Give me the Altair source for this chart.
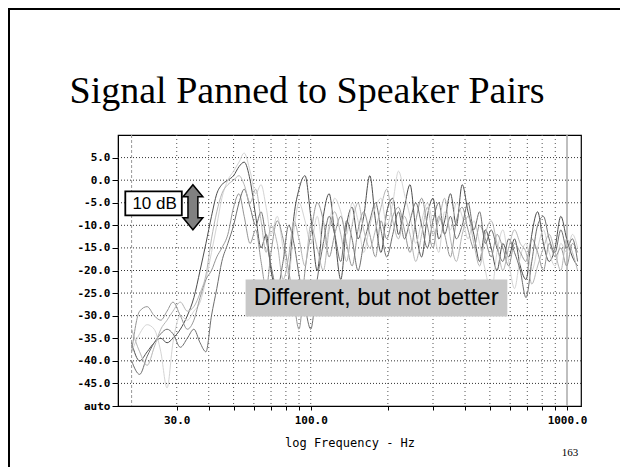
import altair as alt
import pandas as pd

# ---------------- data ----------------
freqs = [20, 21.5, 23, 24.5, 26, 27.5, 29, 31, 33, 35, 37, 39, 41, 43, 45, 47.5, 50, 52.5, 55, 58,
         61, 64, 67, 70, 74, 78, 82, 86, 90, 95, 100,
         106, 112, 118, 124, 131, 138, 145, 153, 161, 170, 179, 188, 198, 209, 220, 232, 244, 257,
         271, 285, 300, 316, 333, 351, 370, 390, 411, 433, 456, 480, 506, 533, 562, 592, 624, 657,
         692, 729, 768, 809, 852, 898, 946, 997, 1050, 1100]

s1 = [-36, -40, -38, -36, -35, -36, -35, -33, -30, -26, -20, -14, -8, -3, -1, 0, 1, 3, 4, 0,
      -8, -15, -12, -20, -26, -30, -22, -8, -2, 1, -8,
      -20, -8, -3, -12, -22, -10, -6, -13, -8, 1, -9, -16, -7, -4, -12, -6, -1, -11, -17, -8,
      -4, -13, -9, -3, -10, -1, -7, -12, -18, -11, -15, -20, -14, -17, -13, -19, -22, -12, -7, -14,
      -18, -15, -8, -13, -17, -19]
s2 = [-38, -34, -32, -33, -38, -46, -36, -30, -31, -29, -27, -22, -16, -10, -4, 0, 2, 4, 6, 2,
      -3, -1, -6, -12, -8, -15, -21, -11, -5, -9, -14,
      -8, -15, -10, -4, -7, -12, -5, -9, -16, -10, -6, -4, -10, -5, 2, -3, -8, -14, -9, -5,
      -10, -16, -7, -11, -5, -8, -13, -9, -14, -20, -25, -16, -11, -18, -24, -17, -14, -20, -15, -11,
      -16, -19, -14, -16, -12, -15]
s3 = [-38, -29, -28, -30, -31, -29, -27, -30, -33, -31, -26, -22, -20, -17, -15, -12, -6, -3, -8, -14,
      -11, -18, -24, -16, -9, -13, -20, -27, -33, -20, -12,
      -5, -9, -17, -12, -8, -14, -19, -11, -7, -12, -17, -9, -13, -8, -6, -11, -16, -9, -4, -10,
      -15, -8, -12, -17, -9, -6, -11, -15, -10, -13, -17, -12, -15, -19, -14, -16, -18, -13, -16, -20,
      -14, -17, -15, -19, -14, -16]
s4 = [-40, -43, -39, -36, -34, -33, -34, -37, -35, -33, -36, -38, -30, -24, -18, -14, -10, -5, -2, -6,
      -10, -7, -13, -19, -24, -18, -10, -14, -21, -28, -33,
      -22, -14, -8, -12, -18, -9, -13, -20, -14, -9, -5, -11, -17, -12, -7, -13, -9, -5, -10, -15,
      -9, -5, -12, -8, -13, -10, -5, -11, -7, -14, -11, -15, -18, -13, -16, -20, -26, -18, -10, -8,
      -13, -16, -11, -15, -13, -18]
s5 = [-33, -38, -41, -37, -33, -31, -29, -27, -29, -28, -25, -21, -13, -7, -3, -1, 0, 1, -1, -5,
      -2, -9, -16, -10, -14, -22, -17, -9, -13, -19, -10,
      -15, -20, -11, -7, -12, -18, -10, -5, -11, -15, -11, -6, -2, -9, -13, -8, -12, -18, -12, -6,
      -12, -9, -4, -13, -18, -12, -8, -14, -19, -12, -9, -14, -20, -15, -11, -14, -16, -23, -19, -15,
      -12, -16, -20, -13, -16, -20]

series_names = ["Pair A", "Pair B", "Pair C", "Pair D", "Pair E"]
series_values = [s1, s2, s3, s4, s5]
series_colors = ["#4d4d4d", "#d4d4d4", "#959595", "#6e6e6e", "#b5b5b5"]

y_tick_values = [-50, -45, -40, -35, -30, -25, -20, -15, -10, -5, 0, 5]
y_tick_labels = ["auto", "-45.0", "-40.0", "-35.0", "-30.0", "-25.0", "-20.0", "-15.0",
                 "-10.0", "-5.0", "0.0", "5.0"]
x_tick_values = [30, 40, 50, 60, 70, 80, 90, 100, 200, 300, 400, 500, 600, 700, 800, 900, 1000]
x_label_values = [30, 100, 1000]
x_label_texts = ["30.0", "100.0", "1000.0"]

h_grid = [-45, -40, -35, -30, -25, -20, -15, -10, -5, 0, 5]
v_grid_dotted = [30, 40, 50, 60, 70, 80, 90, 100, 200, 300, 400, 500, 600, 700, 800, 900]
v_grid_dashed = [20]
v_grid_solid = [1000]

title_text = "Signal Panned to Speaker Pairs"
x_title = "log Frequency - Hz"
page_number = "163"

# annotation boxes / texts in data coordinates (freq, dB)
db_box = {"freq": 18.9, "freq2": 31.4, "db": -2.5, "db2": -7.8}
db_text = {"freq": 24.6, "db": -5.2, "t": "10 dB"}
arrow_pos = {"freq": 34.7, "db": -6.0}
note_box = {"freq": 55.7, "freq2": 585.0, "db": -22.0, "db2": -30.2}
note_text = {"freq": 180.0, "db": -26.1, "t": "Different, but not better"}

# ---------------- build ----------------
rows = []
for name, vals in zip(series_names, series_values):
    for f, v in zip(freqs, vals):
        rows.append({"series": name, "freq": f, "db": v})
df = pd.DataFrame(rows)


def label_expr(values, labels):
    expr = "''"
    for v, l in zip(reversed(values), reversed(labels)):
        expr = f"datum.value == {v} ? '{l}' : ({expr})"
    return expr


x_scale = alt.Scale(type="log", domain=[17.7, 1134], nice=False)
y_scale = alt.Scale(domain=[-50, 10], nice=False, zero=False)

x_axis = alt.Axis(values=x_tick_values, labelExpr=label_expr(x_label_values, x_label_texts),
                  grid=False, title=x_title, tickSize=4, tickColor="black", domainColor="black",
                  labelFont="DejaVu Sans Mono", labelFontWeight="bold", labelFontSize=11,
                  labelColor="black", labelPadding=4, labelFlush=False, labelOverlap=False,
                  titleFont="DejaVu Sans Mono", titleFontSize=12, titleFontWeight="normal",
                  titleColor="black", titleY=40, titleBaseline="alphabetic")
y_axis = alt.Axis(values=y_tick_values, labelExpr=label_expr(y_tick_values, y_tick_labels),
                  grid=False, title="", tickSize=6, tickColor="black", domainColor="black",
                  labelFont="DejaVu Sans Mono", labelFontWeight="bold", labelFontSize=11,
                  labelColor="black", labelPadding=2, labelOverlap=False, labelFlush=False)


def X(field="freq"):
    return alt.X(f"{field}:Q", scale=x_scale, axis=x_axis)


def Y(field="db"):
    return alt.Y(f"{field}:Q", scale=y_scale, axis=y_axis)


hgrid = alt.Chart(pd.DataFrame({"db": h_grid})).mark_rule(
    color="#333333", strokeWidth=1, strokeDash=[1, 2]
).encode(y=Y())

vgrid = alt.Chart(pd.DataFrame({"freq": v_grid_dotted})).mark_rule(
    color="#555555", strokeWidth=1, strokeDash=[1, 3]
).encode(x=X())

vgrid20 = alt.Chart(pd.DataFrame({"freq": v_grid_dashed})).mark_rule(
    color="#999999", strokeWidth=1, strokeDash=[3, 2]
).encode(x=X())

vgrid1000 = alt.Chart(pd.DataFrame({"freq": v_grid_solid})).mark_rule(
    color="#aaaaaa", strokeWidth=1.5
).encode(x=X())

lines = alt.Chart(df).mark_line(strokeWidth=1, interpolate="monotone", clip=True).encode(
    x=X(),
    y=Y(),
    color=alt.Color("series:N", scale=alt.Scale(domain=series_names, range=series_colors),
                    legend=None),
    detail="series:N",
    order="freq:Q",
)

db_box_c = alt.Chart(pd.DataFrame([db_box])).mark_rect(
    fill="white", stroke="black", strokeWidth=1.8
).encode(x=X(), x2="freq2:Q", y=Y(), y2="db2:Q")

db_text_c = alt.Chart(pd.DataFrame([db_text])).mark_text(
    font="Liberation Sans", fontSize=17, color="black", align="center", baseline="middle"
).encode(x=X(), y=Y(), text="t:N")

arrow_path = ("M0,-1 L0.44,-0.47 L0.22,-0.47 L0.22,0.47 L0.44,0.47 L0,1 "
              "L-0.44,0.47 L-0.22,0.47 L-0.22,-0.47 L-0.44,-0.47 Z")
arrow_c = alt.Chart(pd.DataFrame([arrow_pos])).mark_point(
    shape=arrow_path, size=2025, filled=True, fill="#808080", stroke="black",
    strokeWidth=1.5, opacity=1
).encode(x=X(), y=Y())

note_box_c = alt.Chart(pd.DataFrame([note_box])).mark_rect(
    fill="#c8c8c8"
).encode(x=X(), x2="freq2:Q", y=Y(), y2="db2:Q")

note_text_c = alt.Chart(pd.DataFrame([note_text])).mark_text(
    font="Liberation Sans", fontSize=24, color="black", align="center", baseline="middle"
).encode(x=X(), y=Y(), text="t:N")

title_c = alt.Chart(pd.DataFrame({"t": [title_text]})).mark_text(
    font="Liberation Serif", fontSize=38, color="black", align="center", baseline="alphabetic"
).encode(x=alt.value(189), y=alt.value(-32), text="t:N")

page_c = alt.Chart(pd.DataFrame({"t": [page_number]})).mark_text(
    font="Liberation Serif", fontSize=11, color="black", align="center", baseline="middle"
).encode(x=alt.value(452), y=alt.value(318), text="t:N")

border_left = alt.Chart(pd.DataFrame({"a": [0]})).mark_rule(color="black", strokeWidth=2).encode(
    x=alt.value(-109), y=alt.value(-127), y2=alt.value(345))
border_top = alt.Chart(pd.DataFrame({"a": [0]})).mark_rule(color="black", strokeWidth=2).encode(
    x=alt.value(-110), x2=alt.value(520), y=alt.value(-126))

chart = alt.layer(
    hgrid, vgrid, vgrid20, vgrid1000, lines, note_box_c, note_text_c,
    db_box_c, db_text_c, arrow_c, title_c, page_c, border_left, border_top
).properties(
    width=463, height=271,
    padding={"left": 110, "top": 127, "right": 39, "bottom": 61},
    autosize=alt.AutoSizeParams(type="none"),
    background="white",
).configure_view(stroke="black", strokeWidth=1.2)

chart.save("out.html", embed_options={"renderer": "svg", "actions": False})
